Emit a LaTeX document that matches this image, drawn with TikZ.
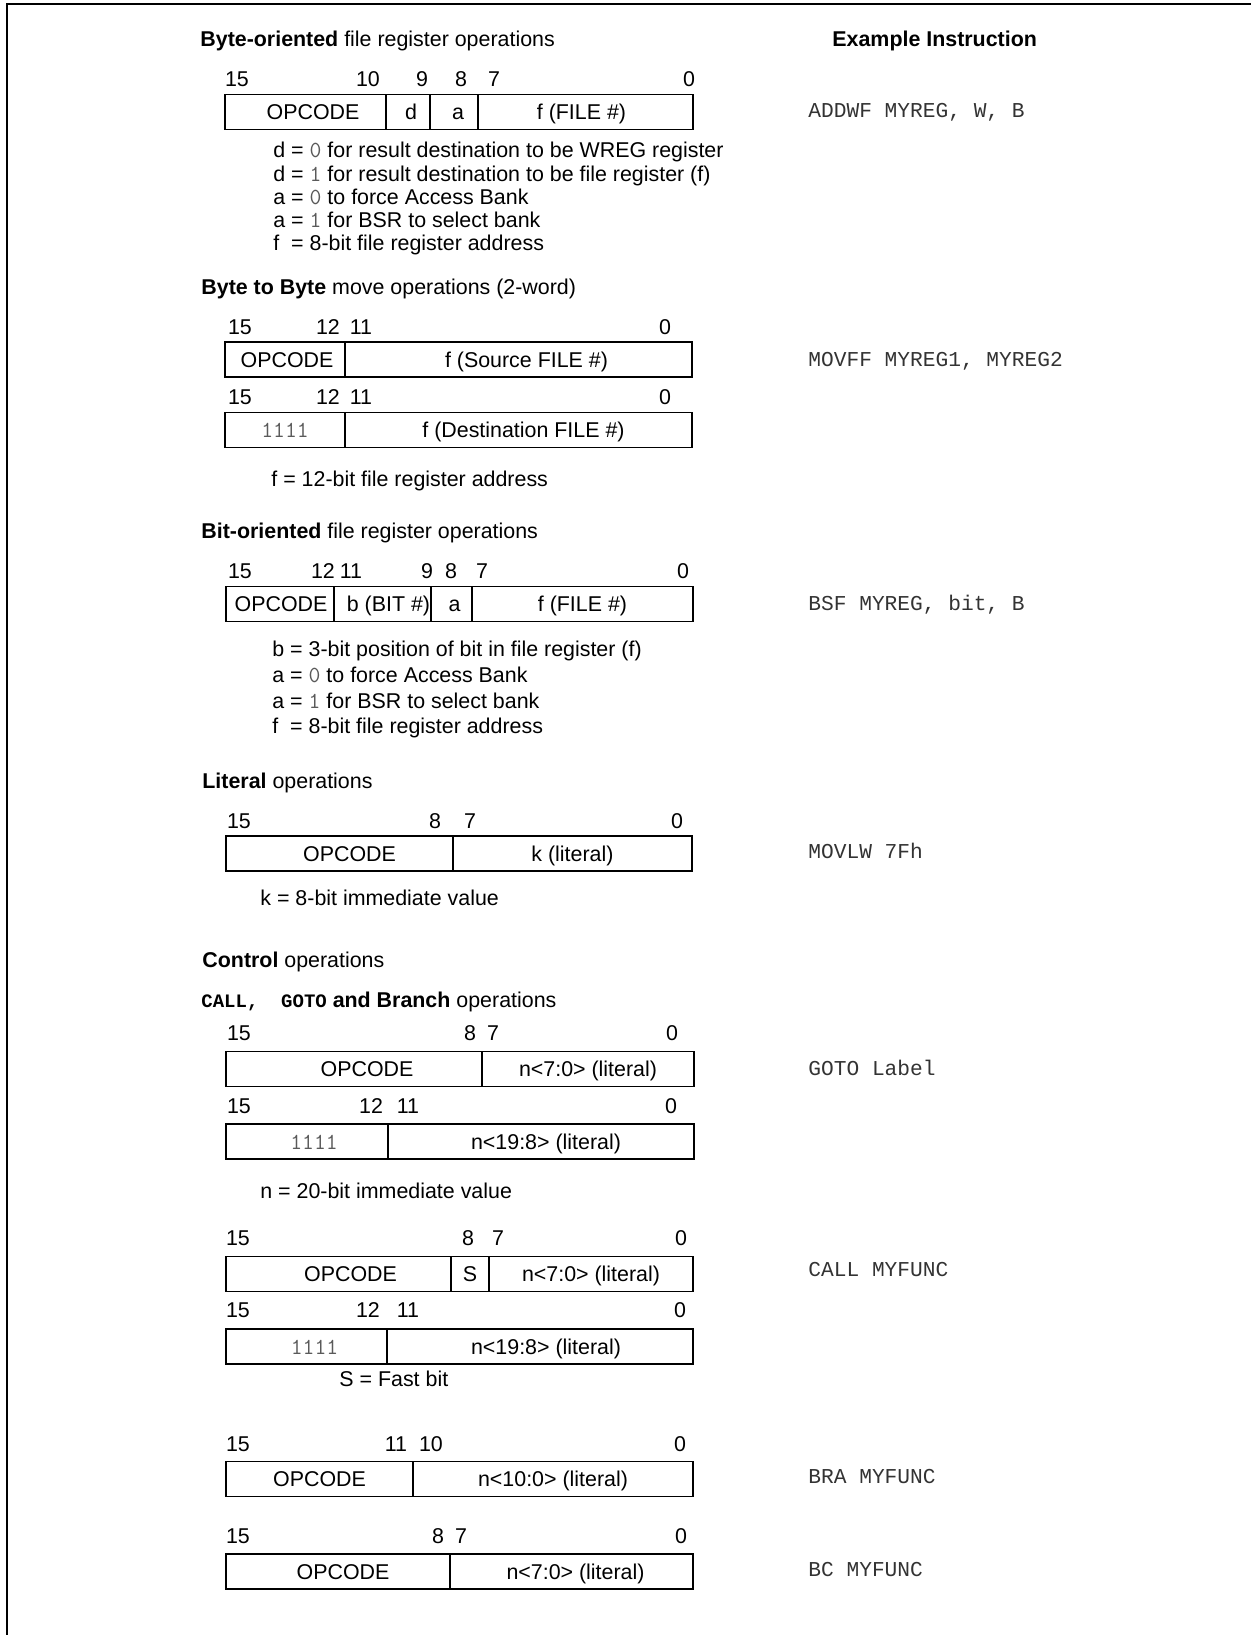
\documentclass[tikz,border=0pt]{standalone}
\usepackage{fontspec}
\setmainfont{Liberation Sans}
\setmonofont{Liberation Mono}
\usepackage{tikz}
\definecolor{codegray}{HTML}{333333}
\definecolor{digitgray}{HTML}{5A5A5A}
\newcommand{\regfont}{\fontsize{10.7}{12.8}\selectfont}
\newcommand{\codefont}{\fontsize{10.6}{12.6}\selectfont\ttfamily}
\newcommand{\dg}[1]{{\fontfamily{lmtt}\fontsize{11.5}{12.8}\selectfont\color{digitgray}#1}}
\tikzset{
  field/.style={draw, line width=0.8pt, minimum width=#1*0.5pt, minimum height=17.5pt, inner sep=0pt, outer sep=0pt, font=\regfont, text height=7.6pt, text depth=0pt},
  text_shift/.style={execute at begin node={\hspace*{#1pt}}},
  bit_num/.style={inner sep=0pt, font=\regfont, text height=7.6pt, text depth=0pt},
  note_text/.style={anchor=west, inner sep=0pt, font=\regfont, text height=7.6pt, text depth=0pt},
  head_text/.style={anchor=west, inner sep=0pt, font=\regfont, text height=7.6pt, text depth=0pt},
  example_code/.style={anchor=west, inner sep=0pt, font=\codefont, text=codegray, text height=7.5pt, text depth=0pt},
  frame_edge/.style={line width=1pt}
}

\begin{document}
\begin{tikzpicture}[x=0.5pt, y=-0.5pt]
        \useasboundingbox (0, 0) rectangle (1251, 1635);
        \draw[frame_edge] (6.5, 1635) -- (6.5, 4) -- (1251, 4);
        \node[head_text] (100) at (200, 39) {\textbf{Byte-oriented} file register operations};
        \node[head_text] (1) at (832, 39) {\textbf{Example Instruction}};
        \node[field=161, text_shift=7.5] (101) at (305.5, 112) {OPCODE};
        \node[field=44, text_shift=3] (102) at (408, 112) {d};
        \node[field=48, text_shift=4] (103) at (454, 112) {a};
        \node[field=215, text_shift=-4] (104) at (585.5, 112) {f (FILE \#)};
        \node[bit_num] (111) at (237, 79) {15};
        \node[bit_num] (112) at (368, 79) {10};
        \node[bit_num] (113) at (422, 79) {9};
        \node[bit_num] (114) at (461, 79) {8};
        \node[bit_num] (115) at (494, 79) {7};
        \node[bit_num] (116) at (689, 79) {0};
        \node[note_text] (121) at (273, 150) {d = \dg{0} for result destination to be WREG register};
        \node[note_text] (122) at (273, 174) {d = \dg{1} for result destination to be file register (f)};
        \node[note_text] (123) at (273, 197) {a = \dg{0} to force Access Bank};
        \node[note_text] (124) at (273, 220) {a = \dg{1} for BSR to select bank};
        \node[note_text] (125) at (273, 243) {f \ = 8-bit file register address};
        \node[example_code] (131) at (808, 110) {ADDWF MYREG, W, B};
        \node[head_text] (200) at (201, 287) {\textbf{Byte to Byte} move operations (2-word)};
        \node[field=120, text_shift=2] (201) at (285, 359.5) {OPCODE};
        \node[field=347, text_shift=8] (202) at (518.5, 359.5) {f (Source FILE \#)};
        \node[field=120] (203) at (285, 430) {\dg{1111}};
        \node[field=347, text_shift=5] (204) at (518.5, 430) {f (Destination FILE \#)};
        \node[bit_num] (211) at (240, 327) {15};
        \node[bit_num] (212) at (328, 327) {12};
        \node[bit_num] (213) at (361, 327) {11};
        \node[bit_num] (214) at (665, 327) {0};
        \node[bit_num] (215) at (240, 397) {15};
        \node[bit_num] (216) at (328, 397) {12};
        \node[bit_num] (217) at (361, 397) {11};
        \node[bit_num] (218) at (665, 397) {0};
        \node[note_text] (221) at (271, 479) {f = 12-bit file register address};
        \node[example_code] (231) at (808, 359) {MOVFF MYREG1, MYREG2};
        \node[head_text] (300) at (201, 531) {\textbf{Bit-oriented} file register operations};
        \node[field=108, text_shift=1] (301) at (280, 604) {OPCODE};
        \node[field=97, text_shift=6] (302) at (382.5, 604) {b (BIT \#)};
        \node[field=41, text_shift=3] (303) at (451.5, 604) {a};
        \node[field=221] (304) at (582.5, 604) {f (FILE \#)};
        \node[bit_num] (311) at (240, 571) {15};
        \node[bit_num] (312) at (323, 571) {12};
        \node[bit_num] (313) at (351, 571) {11};
        \node[bit_num] (314) at (427, 571) {9};
        \node[bit_num] (315) at (451, 571) {8};
        \node[bit_num] (316) at (482, 571) {7};
        \node[bit_num] (317) at (683, 571) {0};
        \node[note_text] (321) at (272, 649) {b = 3-bit position of bit in file register (f)};
        \node[note_text] (322) at (272, 675) {a = \dg{0} to force Access Bank};
        \node[note_text] (323) at (272, 701) {a = \dg{1} for BSR to select bank};
        \node[note_text] (324) at (272, 726) {f \ = 8-bit file register address};
        \node[example_code] (331) at (808, 603) {BSF MYREG, bit, B};
        \node[head_text] (400) at (202, 781) {\textbf{Literal} operations};
        \node[field=227, text_shift=10] (401) at (339.5, 853.5) {OPCODE};
        \node[field=239] (402) at (572.5, 853.5) {k (literal)};
        \node[bit_num] (411) at (239, 821) {15};
        \node[bit_num] (412) at (435, 821) {8};
        \node[bit_num] (413) at (470, 821) {7};
        \node[bit_num] (414) at (677, 821) {0};
        \node[note_text] (421) at (260, 898) {k = 8-bit immediate value};
        \node[example_code] (431) at (808, 851) {MOVLW 7Fh};
        \node[head_text] (500) at (202, 960) {\textbf{Control} operations};
        \node[head_text] (501) at (201, 1000) {{\fontsize{9.5}{12}\selectfont\ttfamily\bfseries CALL,~ GOTO} \textbf{and Branch} operations};
        \node[field=256, text_shift=13] (502) at (354, 1069) {OPCODE};
        \node[field=212] (503) at (588, 1069) {n<7:0> (literal)};
        \node[field=162, text_shift=7] (504) at (307, 1141.5) {\dg{1111}};
        \node[field=306, text_shift=5] (505) at (541, 1141.5) {n<19:8> (literal)};
        \node[bit_num] (511) at (239, 1033) {15};
        \node[bit_num] (512) at (470, 1033) {8};
        \node[bit_num] (513) at (493, 1033) {7};
        \node[bit_num] (514) at (672, 1033) {0};
        \node[bit_num] (515) at (239, 1106) {15};
        \node[bit_num] (516) at (371, 1106) {12};
        \node[bit_num] (517) at (408, 1106) {11};
        \node[bit_num] (518) at (671, 1106) {0};
        \node[note_text] (521) at (260, 1191) {n = 20-bit immediate value};
        \node[example_code] (531) at (808, 1068) {GOTO Label};
        \node[field=225, text_shift=12] (601) at (338.5, 1274) {OPCODE};
        \node[field=38] (602) at (470, 1274) {S};
        \node[field=204] (603) at (591, 1274) {n<7:0> (literal)};
        \node[field=161, text_shift=8] (604) at (306.5, 1346.5) {\dg{1111}};
        \node[field=306, text_shift=6] (605) at (540, 1346.5) {n<19:8> (literal)};
        \node[bit_num] (611) at (238, 1238) {15};
        \node[bit_num] (612) at (468, 1238) {8};
        \node[bit_num] (613) at (498, 1238) {7};
        \node[bit_num] (614) at (681, 1238) {0};
        \node[bit_num] (615) at (238, 1310) {15};
        \node[bit_num] (616) at (368, 1310) {12};
        \node[bit_num] (617) at (408, 1310) {11};
        \node[bit_num] (618) at (680, 1310) {0};
        \node[note_text] (621) at (339, 1379) {S = Fast bit};
        \node[example_code] (631) at (808, 1269) {CALL MYFUNC};
        \node[field=187] (701) at (319.5, 1479) {OPCODE};
        \node[field=280] (702) at (553, 1479) {n<10:0> (literal)};
        \node[bit_num] (711) at (238, 1444) {15};
        \node[bit_num] (712) at (396, 1444) {11};
        \node[bit_num] (713) at (431, 1444) {10};
        \node[bit_num] (714) at (680, 1444) {0};
        \node[example_code] (731) at (808, 1476) {BRA MYFUNC};
        \node[field=224, text_shift=5] (801) at (338, 1571.5) {OPCODE};
        \node[field=243, text_shift=4] (802) at (571.5, 1571.5) {n<7:0> (literal)};
        \node[bit_num] (811) at (238, 1536) {15};
        \node[bit_num] (812) at (438, 1536) {8};
        \node[bit_num] (813) at (461, 1536) {7};
        \node[bit_num] (814) at (681, 1536) {0};
        \node[example_code] (831) at (808, 1569) {BC MYFUNC};
    \end{tikzpicture}
\end{document}
